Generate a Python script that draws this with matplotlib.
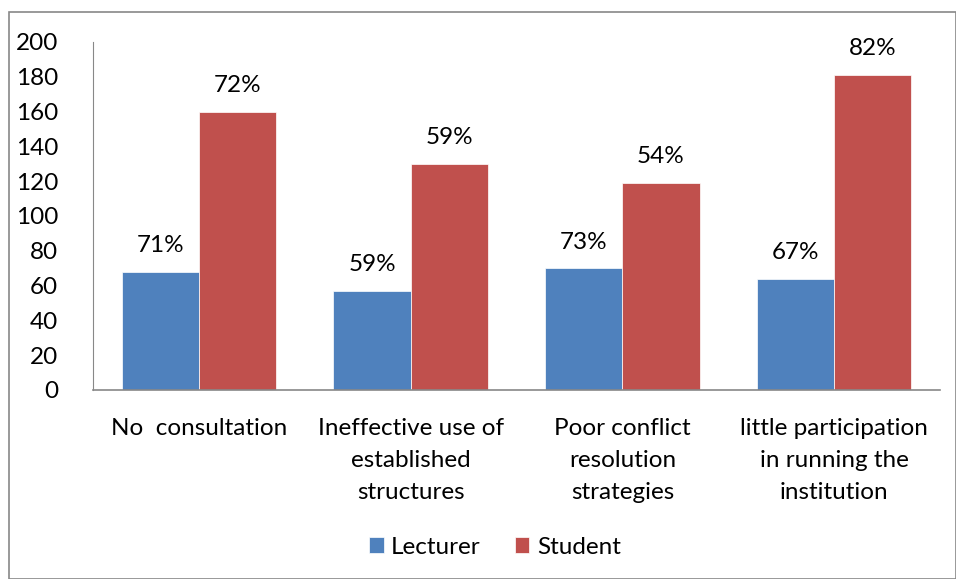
import matplotlib
matplotlib.use("Agg")
import matplotlib.pyplot as plt
import numpy as np
from matplotlib.patches import Rectangle

categories = ["No  consultation", "Ineffective use of\nestablished\nstructures",
              "Poor conflict\nresolution\nstrategies", "little participation\nin running the\ninstitution"]
lecturer = [68, 57, 70, 64]
student = [160, 130, 119, 181]
lecturer_labels = ["71%", "59%", "73%", "67%"]
student_labels = ["72%", "59%", "54%", "82%"]
yticks = [0, 20, 40, 60, 80, 100, 120, 140, 160, 180, 200]

plt.rcParams['font.family'] = ['Lato', 'DejaVu Sans']
FS = 17.5

fig = plt.figure(figsize=(9.56, 5.79), dpi=100)
ax = fig.add_axes([93/956, 1 - 390/579, (940 - 93)/956, (390 - 42)/579])

x = np.arange(len(categories))
w = 0.365
blue = "#4F81BD"
red = "#C0504D"
b1 = ax.bar(x - w/2, lecturer, w, color=blue, label="Lecturer", edgecolor="white", linewidth=0.5)
b2 = ax.bar(x + w/2, student, w, color=red, label="Student", edgecolor="white", linewidth=0.5)

for i in range(len(x)):
    ax.text(x[i] - w/2, lecturer[i] + 9, lecturer_labels[i], ha="center", va="bottom", fontsize=FS)
    ax.text(x[i] + w/2, student[i] + 9, student_labels[i], ha="center", va="bottom", fontsize=FS)

ax.set_xlim(-0.5, 3.5)
ax.set_ylim(0, 200)
ax.set_yticks(yticks)
ax.set_yticklabels([str(t) for t in yticks], fontsize=FS)
ax.set_xticks(x)
ax.set_xticklabels(categories, fontsize=FS, linespacing=1.66, va="top")
ax.tick_params(axis="both", length=0)
ax.tick_params(axis="y", pad=25)
ax.tick_params(axis="x", pad=20)
for s in ["top", "right"]:
    ax.spines[s].set_visible(False)
ax.spines["left"].set_color("#888888")
ax.spines["bottom"].set_color("#888888")
ax.spines["bottom"].set_linewidth(1.2)

fig.legend(handles=[b1, b2], loc="center", bbox_to_anchor=(495/956, 1 - 547/579), ncol=2,
           frameon=False, fontsize=FS, handlelength=0.6, handleheight=0.6, handletextpad=0.3,
           columnspacing=1.4)

fig.patches.append(Rectangle((9/956, 0), 1 - 9/956, 1 - 12/579, transform=fig.transFigure,
                             fill=False, edgecolor="#888888", linewidth=1.2))

fig.savefig("out.png", dpi=100)
